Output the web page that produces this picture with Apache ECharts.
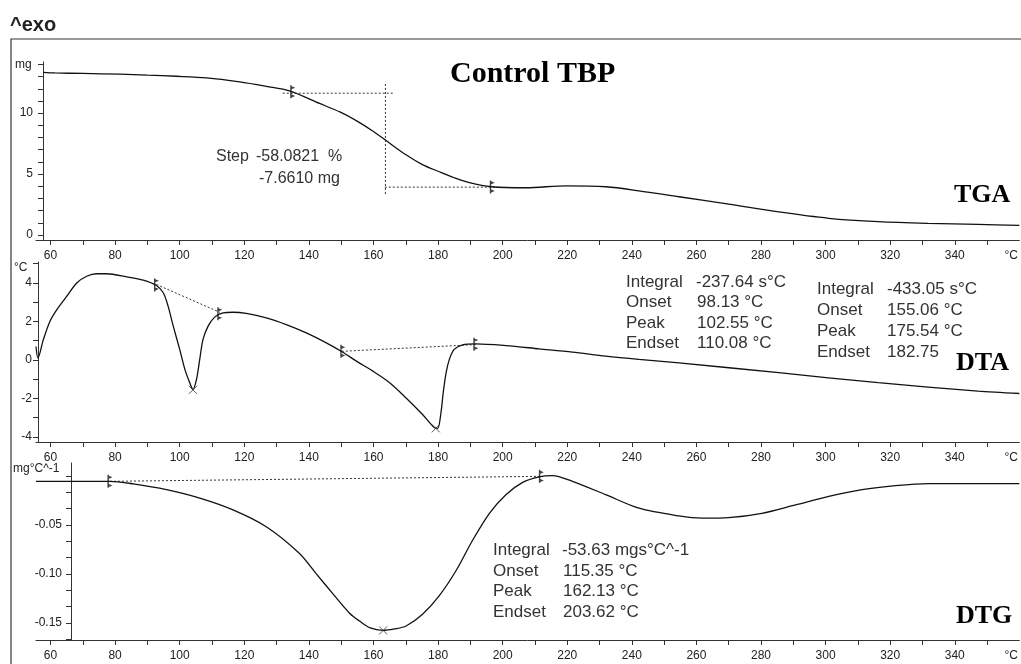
<!DOCTYPE html>
<html><head><meta charset="utf-8">
<script src="https://cdn.jsdelivr.net/npm/echarts@6/dist/echarts.min.js"></script>
<style>html,body{margin:0;padding:0;background:#fff}#c{width:1021px;height:664px}</style>
</head><body><div id="c"></div>
<script>
// ---- shared temperature axis ----
const xTickValues = [60,70,80,90,100,110,120,130,140,150,160,170,180,190,200,210,220,230,240,250,260,270,280,290,300,310,320,330,340,350];
const xLabelValues = [60,80,100,120,140,160,180,200,220,240,260,280,300,320,340,357.5];

// ---- TGA (mg) ----
const tgaT    = [57.7,61.4,70,81.5,90,99,108.3,118.6,126.8,134,143.3,149.6,154.8,160,163.7,170.2,175,180.4,185,189.7,196.5,207.3,219.7,232,242.2,254.6,270,285.5,301,316.3,331.7,347.2,360];
const tgaMass = [13.35,13.3,13.26,13.2,13.12,13.03,12.9,12.57,12.2,11.83,10.8,10.1,9.37,8.5,7.79,6.56,5.8,5.19,4.7,4.29,3.96,3.88,4.04,3.96,3.63,3.14,2.54,1.89,1.37,1.09,0.95,0.87,0.79];
const tgaStepH1T = [131.9,166.5], tgaStepH1V = [11.64,11.64];
const tgaStepVT  = [163.7,163.7], tgaStepVV  = [12.4,3.2];
const tgaStepH2T = [163.5,199],   tgaStepH2V = [3.93,3.93];
const tgaMarkT = [135,196.8], tgaMarkV = [11.75,3.95];
const tgaTicks = [0,1,2,3,4,5,6,7,8,9,10,11,12,13,14];
const tgaLabels = [0,5,10];

// ---- DTA (°C) ----
const dtaT = [55.5,56.1,57.8,59.8,61.9,65,68.1,71.2,74.3,77.4,83.6,88.7,92.8,94.9,96.4,98,100,101.6,103.1,104.1,105.2,106.2,107.2,108.8,110.9,113.4,116.5,120.6,126.8,133,139.2,145.4,150.5,154.7,159.8,165,170.1,175.2,178.9,179.9,180.9,181.6,182.5,183.5,185,187.6,191.7,201,211.3,221.6,231.9,242.2,254.6,285.5,316.3,347.2,360];
const dtaV = [0.7,0.1,1.07,2.0,2.6,3.3,4.0,4.35,4.48,4.48,4.32,4.15,3.87,3.49,2.8,1.76,0.55,-0.49,-1.18,-1.53,-1.01,0.03,1.06,1.76,2.24,2.45,2.48,2.42,2.19,1.84,1.41,0.89,0.4,-0.06,-0.58,-1.18,-1.97,-2.83,-3.52,-3.55,-2.74,-1.7,-0.66,0.03,0.55,0.79,0.84,0.75,0.58,0.41,0.2,0.03,-0.15,-0.66,-1.18,-1.62,-1.74];
const dtaBase1T = [92.8,112.4], dtaBase1V = [3.92,2.48];
const dtaBase2T = [150.2,191.7], dtaBase2V = [0.45,0.8];
const dtaMarkT = [92.8,112.4,150.5,191.7], dtaMarkV = [3.9,2.4,0.45,0.82];
const dtaPeakT = [104.1,179.3], dtaPeakV = [-1.55,-3.55];
const dtaTicks = [-4,-3,-2,-1,0,1,2,3,4,5];
const dtaLabels = [-4,-2,0,2,4];

// ---- DTG (mg°C^-1) ----
const dtgT = [55.5,78.4,85.6,95.9,106.2,116.5,126.8,137.1,142.3,147.4,152.6,155.7,159,162.9,166.5,170.1,175.2,180.4,185.6,190.7,195.9,201,206.2,211.3,215.4,221.6,231.9,242.2,254.6,261.8,270,280.3,290.7,301,311.3,321.6,331.9,360];
const dtgV = [-0.0054,-0.0054,-0.008,-0.0139,-0.0225,-0.0345,-0.0517,-0.079,-0.0998,-0.12,-0.14,-0.148,-0.155,-0.1575,-0.156,-0.153,-0.141,-0.122,-0.0964,-0.0655,-0.038,-0.019,-0.0064,-0.0008,0.0005,-0.0054,-0.019,-0.0328,-0.0407,-0.043,-0.0424,-0.038,-0.0294,-0.0208,-0.0139,-0.0098,-0.0077,-0.0077];
const dtgBaseT = [78.4,212], dtgBaseV = [-0.0054,-0.0003];
const dtgMarkT = [78.4,212], dtgMarkV = [-0.0054,-0.0003];
const dtgPeakT = [163], dtgPeakV = [-0.1575];
const dtgTicks = [0,-0.0167,-0.0333,-0.05,-0.0667,-0.0833,-0.1,-0.1167,-0.1333,-0.15,-0.1667];
const dtgLabels = [-0.15,-0.1,-0.05];

const zip = (a,b) => a.map((v,i)=>[v,b[i]]);
const INK = '#111', TXT = '#222';
const markerPath = 'path://M2.4,0 L3.4,0 L3.4,14 L2.4,14 Z M3.4,1 L6,2.6 L3.4,4.2 Z M3.4,9.8 L6,11.4 L3.4,13 Z';
const crossPath = 'path://M0,0 L10,10 M10,0 L0,10';

const grids = [
  {left:36, right:0, top:62, height:178},
  {left:36, right:0, top:262, height:180},
  {left:36, right:0, top:463, height:177}
];
const xAxes = [0,1,2].map(g => ({
  type:'value', gridIndex:g, min:55.5, max:360, position:'bottom',
  axisLine:{show:true, onZero:false, lineStyle:{color:'#333', width:1}},
  axisTick:{show:true, customValues:xTickValues, length:5, lineStyle:{color:'#333'}},
  axisLabel:{customValues:xLabelValues, color:TXT, fontSize:12, fontFamily:'Liberation Sans, Arial', margin:10,
    formatter: v => v > 355 ? '°C' : String(v)},
  splitLine:{show:false}
}));
function yAx(g, min, max, ticks, labels, off, fmt, margin){
  return {type:'value', gridIndex:g, min:min, max:max, offset:off,
    axisLine:{show:true, onZero:false, lineStyle:{color:'#333', width:1}},
    axisTick:{show:true, customValues:ticks, length:5, lineStyle:{color:'#333'}},
    axisLabel:{customValues:labels, color:TXT, fontSize:12, fontFamily:'Liberation Sans, Arial', margin:margin, formatter:fmt},
    splitLine:{show:false}};
}
const yAxes = [
  yAx(0, -0.41, 14.2, tgaTicks, tgaLabels, -7, v => String(Math.round(v)), 10),
  yAx(1, -4.26, 5.09, dtaTicks, dtaLabels, -2, v => String(Math.round(v)), 6),
  yAx(2, -0.1673, 0.0133, dtgTicks, dtgLabels, -35, v => v.toFixed(2), 9)
];
function curve(i, t, v){ return {type:'line', xAxisIndex:i, yAxisIndex:i, data:zip(t,v), showSymbol:false, smooth:0.3, lineStyle:{color:INK, width:1.3}, silent:true, z:3}; }
function dotted(i, t, v){ return {type:'line', xAxisIndex:i, yAxisIndex:i, data:zip(t,v), showSymbol:false, lineStyle:{color:'#333', width:1, type:[2,2]}, silent:true, z:2}; }
function marks(i, t, v){ return {type:'scatter', xAxisIndex:i, yAxisIndex:i, data:zip(t,v), symbol:markerPath, symbolSize:[5,13], itemStyle:{color:'#111'}, silent:true, z:4}; }
function peaks(i, t, v){ return {type:'scatter', xAxisIndex:i, yAxisIndex:i, data:zip(t,v), symbol:crossPath, symbolSize:8, itemStyle:{color:'none', borderColor:'#333', borderWidth:1}, silent:true, z:4}; }

const series = [
  curve(0, tgaT, tgaMass),
  dotted(0, tgaStepH1T, tgaStepH1V), dotted(0, tgaStepVT, tgaStepVV), dotted(0, tgaStepH2T, tgaStepH2V),
  marks(0, tgaMarkT, tgaMarkV),
  curve(1, dtaT, dtaV),
  dotted(1, dtaBase1T, dtaBase1V), dotted(1, dtaBase2T, dtaBase2V),
  marks(1, dtaMarkT, dtaMarkV), peaks(1, dtaPeakT, dtaPeakV),
  curve(2, dtgT, dtgV),
  dotted(2, dtgBaseT, dtgBaseV),
  marks(2, dtgMarkT, dtgMarkV), peaks(2, dtgPeakT, dtgPeakV)
];

const SANS = '"Liberation Sans", Arial, sans-serif';
const SERIF = '"Liberation Serif", "Times New Roman", serif';
function txt(s, x, y, font, fill, align){
  return {type:'text', x:x, y:y, z:10, style:{text:s, font:font, fill:fill||'#333', align:align||'left', verticalAlign:'middle'}};
}
const ann = '17px ' + SANS;
const annS = '16px ' + SANS;
const graphic = [
  {type:'rect', shape:{x:11, y:39, width:1040, height:660}, style:{fill:'none', stroke:'#333', lineWidth:1.2}, z:1},
  txt('^exo', 10, 25, 'bold 20px ' + SANS, '#222'),
  txt('Control TBP', 450, 74, 'bold 30px ' + SERIF, '#000'),
  txt('TGA', 954, 195, 'bold 26px ' + SERIF, '#000'),
  txt('DTA', 956, 363, 'bold 26px ' + SERIF, '#000'),
  txt('DTG', 956, 616, 'bold 26px ' + SERIF, '#000'),
  txt('mg', 15, 65, '12px ' + SANS, TXT),
  txt('°C', 14, 268, '12px ' + SANS, TXT),
  txt('mg°C^-1', 13, 469, '12px ' + SANS, TXT),
  txt('Step', 216, 157, annS), txt('-58.0821  %', 256, 157, annS), txt('-7.6610 mg', 259, 179, annS),
  txt('Integral', 626, 282, ann), txt('-237.64 s°C', 696, 282, ann),
  txt('Onset', 626, 302, ann), txt('98.13 °C', 697, 302, ann),
  txt('Peak', 626, 323, ann), txt('102.55 °C', 697, 323, ann),
  txt('Endset', 626, 343, ann), txt('110.08 °C', 697, 343, ann),
  txt('Integral', 817, 289, ann), txt('-433.05 s°C', 887, 289, ann),
  txt('Onset', 817, 310, ann), txt('155.06 °C', 887, 310, ann),
  txt('Peak', 817, 331, ann), txt('175.54 °C', 887, 331, ann),
  txt('Endset', 817, 352, ann), txt('182.75', 887, 352, ann),
  txt('Integral', 493, 550, ann), txt('-53.63 mgs°C^-1', 562, 550, ann),
  txt('Onset', 493, 571, ann), txt('115.35 °C', 563, 571, ann),
  txt('Peak', 493, 591, ann), txt('162.13 °C', 563, 591, ann),
  txt('Endset', 493, 612, ann), txt('203.62 °C', 563, 612, ann)
];

const chart = echarts.init(document.getElementById('c'), null, {renderer:'canvas'});
chart.setOption({
  animation:false, backgroundColor:'#fff',
  grid:grids, xAxis:xAxes, yAxis:yAxes, series:series, graphic:graphic
});
</script></body></html>
